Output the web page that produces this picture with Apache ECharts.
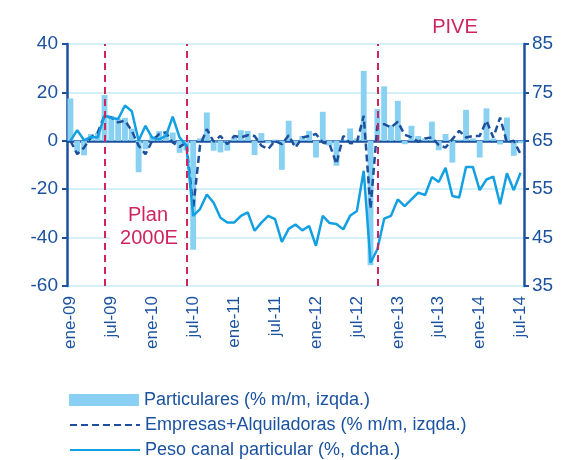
<!DOCTYPE html>
<html>
<head>
<meta charset="utf-8">
<script src="https://cdn.jsdelivr.net/npm/echarts@6/dist/echarts.min.js"></script>
<style>
  html, body { margin: 0; padding: 0; background: #fff; }
  #chart { width: 582px; height: 460px; }
</style>
</head>
<body>
<div id="chart"></div>
<script>
// meses ene-09 .. jul-14
const mesesNombres = ['ene', 'feb', 'mar', 'abr', 'may', 'jun', 'jul', 'ago', 'sep', 'oct', 'nov', 'dic'];
const meses = [];
for (let y = 9; y <= 14; y++) {
  for (let m = 0; m < 12; m++) {
    if (y === 14 && m > 6) break;
    meses.push(mesesNombres[m] + '-' + (y < 10 ? '0' + y : y));
  }
}

// Particulares (% m/m, izqda.)
const particulares = [
  17.5, -4.5, -6, 2.8, 3.2, 18.9, 10.3, 9.2, 9.5, 5, -13, -3.5,
  2, 4, 4, 3.4, -5, -4, -45, 1, 11.7, -4.1, -4.8, -4.1,
  1.4, 4.4, 4.1, -5.9, 3.2, -1, 0.5, -12, 8.3, -1.8, 2, 4.1,
  -6.9, 12, -2, -10.3, 0.5, 5.1, 1, 28.9, -51.4, 13.1, 22.5, 6.5,
  16.5, -1.4, 6.2, 2, 1, 7.9, -3.9, 2.8, -9, 0.5, 12.8, 1,
  -6.9, 13.4, 1, -1.5, 9.6, -6.2, -1
];

// Empresas+Alquiladoras (% m/m, izqda.)
const empresas = [
  0, -5.5, -2.8, 1.4, 3.4, 10.3, 9.6, 7.6, 8.3, 4.1, -2, -5.5,
  0, 2.8, 3.4, -0.7, -2.5, -0.7, -28, -2, 4.8, -0.4, 2, -1.4,
  2, 1.4, 2.3, 2, -2, -3.4, 0, -1.4, 2.3, -2.8, 1.4, 2,
  2.8, -0.7, -1.4, -9.6, 2, -1, -0.7, 10.3, -28, 6.2, 6.9, 5.5,
  7.9, 2.5, 1.4, -0.4, 1, 1.4, -1.8, -2.8, 0.7, 4.1, 1.4, 2,
  2, 8.3, 1.4, 9.6, -0.7, 0, -5.5
];

// Peso canal particular (%, dcha.)
const peso = [
  65, 67.2, 65.1, 65.8, 65.7, 70.2, 69.7, 69.5, 72.3, 71.1, 65, 68.1,
  65.6, 65.3, 66, 70, 65.7, 64, 49.5, 50.9, 53.9, 52.2, 49.1, 48.1,
  48.1, 49.5, 50.2, 46.4, 48.1, 49.5, 48.8, 44.1, 46.8, 47.7, 46.5, 47.4,
  43.3, 49.5, 48, 47.8, 46.7, 49.5, 50.5, 58.8, 39.8, 42.6, 48.9, 49.5,
  52.9, 51.5, 52.9, 54.3, 53.8, 57.5, 56.5, 59.4, 53.6, 53.3, 59.6, 59.6,
  54.8, 57, 57.6, 51.9, 58.3, 54.8, 58.4
];

// planes (lineas verticales)
const planes = ['jun-09', 'jun-10', 'oct-12'];

const nombres = [
  'Particulares (% m/m, izqda.)',
  'Empresas+Alquiladoras (% m/m, izqda.)',
  'Peso canal particular (%, dcha.)'
];

const azulOsc = '#1b52a0';
const rojo = '#d0245f';
const fuente = 'Liberation Sans, Arial, sans-serif';

// una leyenda por fila
const leyendaTops = [386, 411, 436];
const leyendas = nombres.map((n, i) => ({
  left: 64,
  top: leyendaTops[i],
  itemWidth: 70,
  itemHeight: 12,
  textStyle: { color: azulOsc, fontSize: 18, fontFamily: fuente },
  data: [i === 0 ? { name: n, icon: 'rect' } : { name: n, itemStyle: { opacity: 0 } }]
}));

let myChart = echarts.init(document.getElementById('chart'));
myChart.setOption({
  animation: false,
  textStyle: { fontFamily: fuente },
  grid: { left: 67, right: 58, top: 44, bottom: 174 },
  legend: leyendas,
  xAxis: [
    {
      type: 'category',
      data: meses,
      position: 'bottom',
      axisLine: { show: false, onZero: false },
      axisTick: { show: false },
      axisLabel: {
        interval: 5,
        rotate: 90,
        margin: 10,
        color: azulOsc,
        fontSize: 17,
        fontFamily: fuente
      }
    },
    {
      type: 'category',
      data: meses,
      position: 'bottom',
      axisLine: { onZero: true, onZeroAxisIndex: 0, lineStyle: { color: azulOsc, width: 2.5 } },
      axisTick: { interval: 5, length: 4, lineStyle: { color: azulOsc, width: 2 } },
      axisLabel: { show: false }
    }
  ],
  yAxis: [
    {
      type: 'value',
      min: -60,
      max: 40,
      interval: 20,
      axisLine: { show: true, lineStyle: { color: azulOsc, width: 2.5 } },
      axisTick: { show: true, length: 5, lineStyle: { color: azulOsc, width: 2 } },
      axisLabel: { color: azulOsc, fontSize: 19, margin: 9, fontFamily: fuente },
      splitLine: { lineStyle: { color: '#c9ebf8', width: 1.5 } }
    },
    {
      type: 'value',
      min: 35,
      max: 85,
      interval: 10,
      axisLine: { show: true, lineStyle: { color: azulOsc, width: 2.5 } },
      axisTick: { show: true, length: 5, lineStyle: { color: azulOsc, width: 2 } },
      axisLabel: { color: azulOsc, fontSize: 19, margin: 8, fontFamily: fuente },
      splitLine: { show: false }
    }
  ],
  graphic: [
    { type: 'rect', z: 5, shape: { x: 110, y: 201, width: 74, height: 50 }, style: { fill: '#fff' } },
    { type: 'text', z: 6, x: 455, y: 27, style: { text: 'PIVE', fill: rojo, font: '20px ' + fuente, textAlign: 'center', textVerticalAlign: 'middle' } },
    { type: 'text', z: 6, x: 148, y: 215, style: { text: 'Plan', fill: rojo, font: '20px ' + fuente, textAlign: 'center', textVerticalAlign: 'middle' } },
    { type: 'text', z: 6, x: 149, y: 238, style: { text: '2000E', fill: rojo, font: '20px ' + fuente, textAlign: 'center', textVerticalAlign: 'middle' } }
  ],
  series: [
    {
      name: nombres[0],
      type: 'bar',
      data: particulares,
      barCategoryGap: '14%',
      itemStyle: { color: '#89d1f2' },
      markLine: {
        silent: true,
        symbol: 'none',
        label: { show: false },
        lineStyle: { color: rojo, width: 2, type: [7, 5] },
        data: planes.map(p => ({ xAxis: p }))
      }
    },
    {
      name: nombres[1],
      type: 'line',
      data: empresas,
      symbol: 'none',
      lineStyle: { color: '#1d4f9c', width: 2.5, type: [7, 4] },
      itemStyle: { color: '#1d4f9c' }
    },
    {
      name: nombres[2],
      type: 'line',
      yAxisIndex: 1,
      data: peso,
      symbol: 'none',
      lineStyle: { color: '#12a0e2', width: 2.5 },
      itemStyle: { color: '#12a0e2' }
    }
  ]
});
</script>
</body>
</html>
